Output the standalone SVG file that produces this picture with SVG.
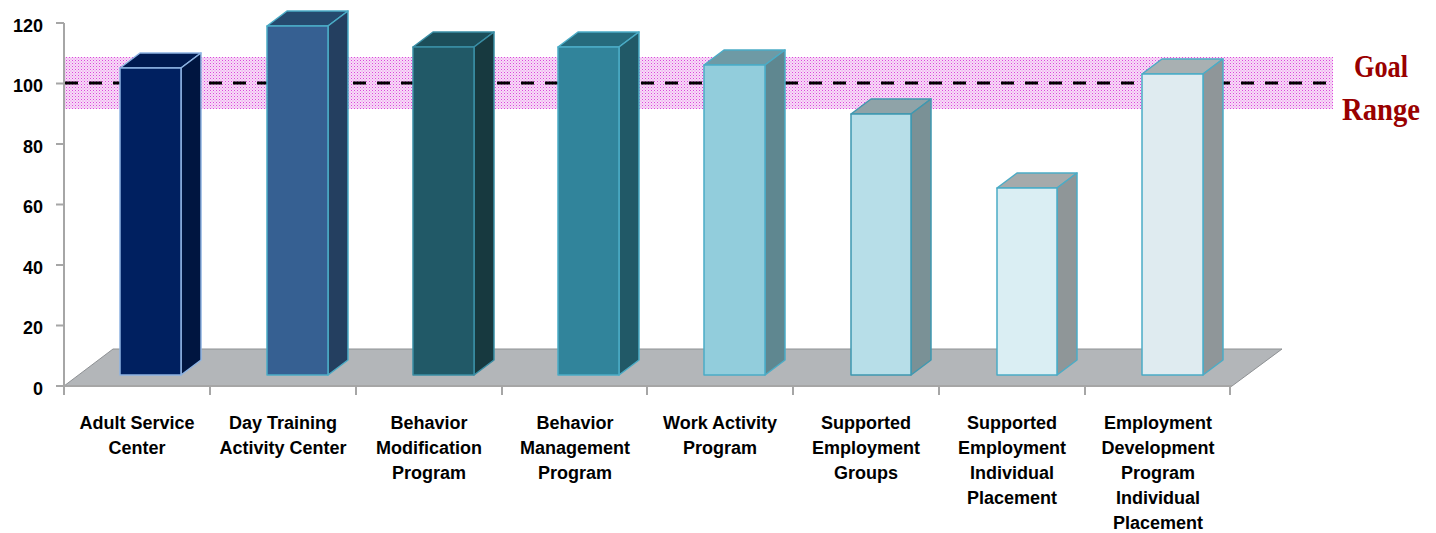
<svg xmlns="http://www.w3.org/2000/svg" width="1436" height="533" viewBox="0 0 1436 533">
<defs>
<pattern id="dots" width="3" height="3" patternUnits="userSpaceOnUse">
<rect width="3" height="3" fill="#f7dcf7"/>
<rect width="1" height="1" fill="#dd44dd"/>
<rect x="1.5" y="1.5" width="1" height="1" fill="#ea80ea"/>
</pattern>
</defs>
<style>
.ax{stroke:#a6a6a6;stroke-width:2;fill:none}
.yl{font-family:"Liberation Sans",Arial,sans-serif;font-weight:bold;font-size:18px;fill:#000;text-anchor:end}
.xl{font-family:"Liberation Sans",Arial,sans-serif;font-weight:bold;font-size:18px;fill:#000;text-anchor:middle}
.goal{font-family:"Liberation Serif","Times New Roman",serif;font-weight:bold;font-size:32px;fill:#990000;text-anchor:middle}
.bar polygon{stroke-width:1.5;stroke-linejoin:round}
</style>
<rect width="1436" height="533" fill="#ffffff"/>
<g id="goal-band">
<rect x="65" y="57" width="1268" height="52" fill="url(#dots)"/>
<line x1="65" y1="83" x2="1333" y2="83" stroke="#000" stroke-width="3" stroke-dasharray="13 11"/>
</g>
<g id="floor">
<polygon points="64,386 113,349 1282,349 1232,386" fill="#b3b6b9" stroke="#8e9194" stroke-width="1"/>
</g>
<g id="axes">
<line class="ax" x1="64" y1="23" x2="64" y2="387"/>
<line class="ax" x1="64" y1="386" x2="1232" y2="386"/>
<path class="ax" d="M56,23H64M56,83.5H64M56,144H64M56,204.5H64M56,265H64M56,325.5H64M56,386H64"/>
<path class="ax" d="M64,386V395M210,386V395M356,386V395M502,386V395M647,386V395M793,386V395M939,386V395M1085,386V395M1230,386V395"/>
</g>
<g id="y-labels">
<text class="yl" x="43" y="31.5">120</text>
<text class="yl" x="43" y="92">100</text>
<text class="yl" x="43" y="152.5">80</text>
<text class="yl" x="43" y="213">60</text>
<text class="yl" x="43" y="273.5">40</text>
<text class="yl" x="43" y="334">20</text>
<text class="yl" x="43" y="394.5">0</text>
</g>
<g id="bar1" class="bar">
<polygon points="120,68 140,53 201,53 181,68" fill="#001a50" stroke="#8db3e2"/>
<polygon points="181,68 201,53 201,360 181,375" fill="#001540" stroke="#8db3e2"/>
<polygon points="120,68 181,68 181,375 120,375" fill="#002060" stroke="#8db3e2"/>
</g>
<g id="bar2" class="bar">
<polygon points="267,26 287,11 348,11 328,26" fill="#254a6e" stroke="#4bacc6"/>
<polygon points="328,26 348,11 348,360 328,375" fill="#243f60" stroke="#4bacc6"/>
<polygon points="267,26 328,26 328,375 267,375" fill="#366092" stroke="#4bacc6"/>
</g>
<g id="bar3" class="bar">
<polygon points="413,47 433,32 494,32 474,47" fill="#1c4e5a" stroke="#3a8ea5"/>
<polygon points="474,47 494,32 494,360 474,375" fill="#17393f" stroke="#3a8ea5"/>
<polygon points="413,47 474,47 474,375 413,375" fill="#215967" stroke="#3a8ea5"/>
</g>
<g id="bar4" class="bar">
<polygon points="558,47 578,32 639,32 619,47" fill="#266b7d" stroke="#4bacc6"/>
<polygon points="619,47 639,32 639,360 619,375" fill="#215967" stroke="#4bacc6"/>
<polygon points="558,47 619,47 619,375 558,375" fill="#31849b" stroke="#4bacc6"/>
</g>
<g id="bar5" class="bar">
<polygon points="704,65 724,50 785,50 765,65" fill="#6e9aa5" stroke="#4bacc6"/>
<polygon points="765,65 785,50 785,360 765,375" fill="#5f8790" stroke="#4bacc6"/>
<polygon points="704,65 765,65 765,375 704,375" fill="#92cddc" stroke="#4bacc6"/>
</g>
<g id="bar6" class="bar">
<polygon points="851,114 871,99 931,99 911,114" fill="#8fa3a8" stroke="#3f98b0"/>
<polygon points="911,114 931,99 931,360 911,375" fill="#7a9196" stroke="#3f98b0"/>
<polygon points="851,114 911,114 911,375 851,375" fill="#b7dee8" stroke="#3f98b0"/>
</g>
<g id="bar7" class="bar">
<polygon points="997,188 1017,173 1077,173 1057,188" fill="#a5aaab" stroke="#4bacc6"/>
<polygon points="1057,188 1077,173 1077,360 1057,375" fill="#8f9698" stroke="#4bacc6"/>
<polygon points="997,188 1057,188 1057,375 997,375" fill="#daeef3" stroke="#4bacc6"/>
</g>
<g id="bar8" class="bar">
<polygon points="1142,74 1162,59 1223,59 1203,74" fill="#a8b0b2" stroke="#4bacc6"/>
<polygon points="1203,74 1223,59 1223,360 1203,375" fill="#8f9699" stroke="#4bacc6"/>
<polygon points="1142,74 1203,74 1203,375 1142,375" fill="#dfebf0" stroke="#4bacc6"/>
</g>
<g id="goal-label">
<text class="goal" x="1381" y="77" textLength="54" lengthAdjust="spacingAndGlyphs">Goal</text>
<text class="goal" x="1381" y="120" textLength="78" lengthAdjust="spacingAndGlyphs">Range</text>
</g>
<g id="x-labels">
<text class="xl" x="137" y="429">Adult Service</text>
<text class="xl" x="137" y="454">Center</text>
<text class="xl" x="283" y="429">Day Training</text>
<text class="xl" x="283" y="454">Activity Center</text>
<text class="xl" x="429" y="429">Behavior</text>
<text class="xl" x="429" y="454">Modification</text>
<text class="xl" x="429" y="479">Program</text>
<text class="xl" x="575" y="429">Behavior</text>
<text class="xl" x="575" y="454">Management</text>
<text class="xl" x="575" y="479">Program</text>
<text class="xl" x="720" y="429">Work Activity</text>
<text class="xl" x="720" y="454">Program</text>
<text class="xl" x="866" y="429">Supported</text>
<text class="xl" x="866" y="454">Employment</text>
<text class="xl" x="866" y="479">Groups</text>
<text class="xl" x="1012" y="429">Supported</text>
<text class="xl" x="1012" y="454">Employment</text>
<text class="xl" x="1012" y="479">Individual</text>
<text class="xl" x="1012" y="504">Placement</text>
<text class="xl" x="1158" y="429">Employment</text>
<text class="xl" x="1158" y="454">Development</text>
<text class="xl" x="1158" y="479">Program</text>
<text class="xl" x="1158" y="504">Individual</text>
<text class="xl" x="1158" y="529">Placement</text>
</g>
</svg>
